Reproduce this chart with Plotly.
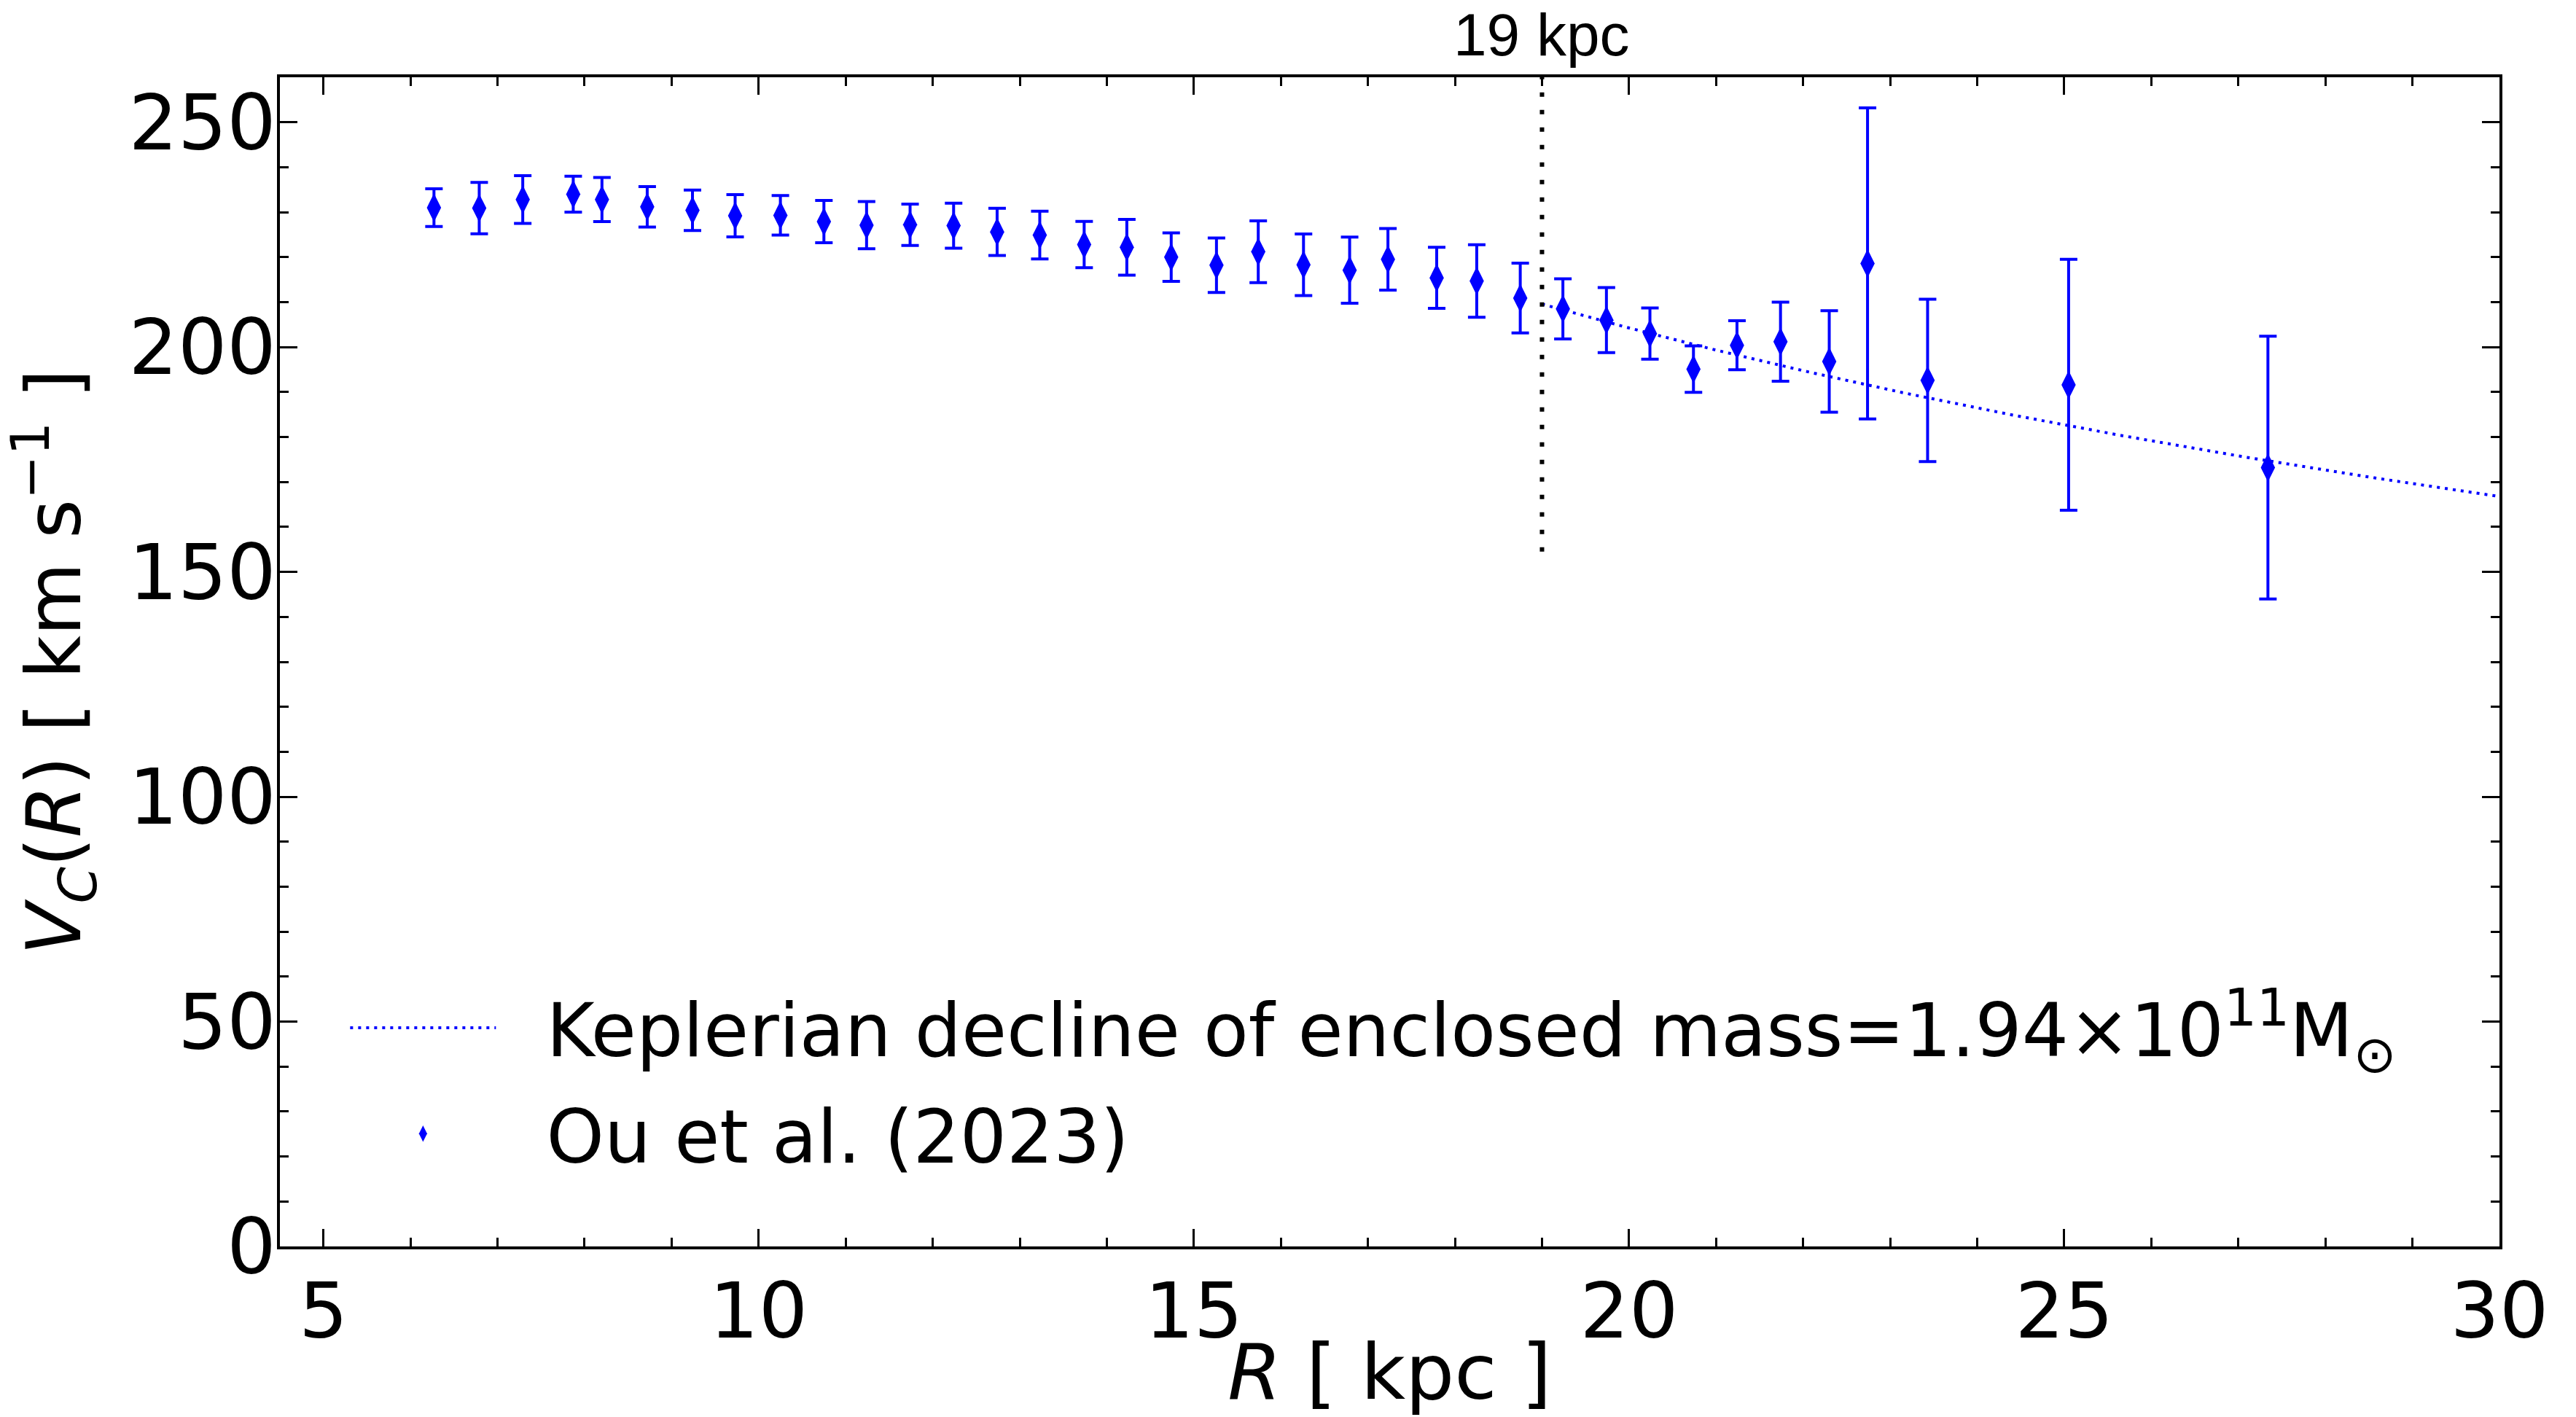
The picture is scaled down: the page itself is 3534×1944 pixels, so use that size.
import numpy as np
import plotly.graph_objects as go

# Circular velocity measurements, Ou et al. (2023)
R_kpc = [6.27, 6.79, 7.29, 7.87, 8.20, 8.72, 9.24, 9.73, 10.25, 10.75, 11.24, 11.74,
         12.24, 12.74, 13.23, 13.74, 14.23, 14.74, 15.26, 15.74, 16.26, 16.79, 17.23,
         17.79, 18.25, 18.75, 19.24, 19.74, 20.24, 20.74, 21.24, 21.74, 22.30, 22.74,
         23.43, 25.05, 27.34]
Vc_kms = [231.0, 230.9, 232.8, 234.0, 232.8, 231.2, 230.4, 229.2, 229.3, 227.9, 227.1,
          227.2, 227.0, 225.6, 224.9, 222.8, 222.2, 220.0, 218.2, 221.2, 218.3, 217.1,
          219.5, 215.4, 214.7, 210.9, 208.5, 206.0, 203.0, 195.1, 200.4, 201.2, 196.8,
          218.6, 192.6, 191.6, 173.2]
Vc_err = [4.2, 5.7, 5.3, 4.0, 4.9, 4.5, 4.5, 4.7, 4.4, 4.7, 5.25, 4.6, 5.0, 5.25, 5.3,
          5.15, 6.2, 5.4, 6.05, 6.85, 6.85, 7.35, 6.85, 6.8, 8.05, 7.75, 6.7, 7.25, 5.7,
          5.15, 5.45, 8.8, 11.3, 34.6, 18.05, 27.9, 29.2]

# Keplerian fall-off beyond the break radius for the enclosed mass
M_enc = 1.94e11             # Msun
G = 4.30091e-6              # kpc (km/s)^2 / Msun
R_break = 19.0              # kpc
R_max = 30.0
R_kep = np.linspace(R_break, R_max, 200)
V_kep = np.sqrt(G * M_enc / R_kep)

# Marker for the break radius
vline_V = [154.5, 260.0]

X_RANGE = [4.5, 30]
Y_RANGE = [0, 260]

BLUE = "#0000ff"
FONT = "DejaVu Sans"
GAP = "\u00a0\u00a0"  # small gap between legend symbol and label

fig = go.Figure()

fig.add_trace(go.Scatter(
    x=R_kep, y=V_kep, mode="lines",
    line=dict(color=BLUE, width=4, dash="4px,7px"),
    name=GAP + "Keplerian decline of enclosed mass=1.94×10<sup>11</sup>M<sub>⊙</sub>",
    legendgroup="kep",
))

fig.add_trace(go.Scatter(
    x=[R_break, R_break], y=vline_V, mode="lines",
    line=dict(color="black", width=6, dash="6px,18px"),
    showlegend=False, hoverinfo="skip",
))

fig.add_trace(go.Scatter(
    x=R_kpc, y=Vc_kms, mode="markers",
    marker=dict(symbol="diamond-tall", size=28, color=BLUE, line=dict(width=0)),
    error_y=dict(type="data", array=Vc_err, visible=True, color=BLUE,
                 thickness=4, width=12),
    name=GAP + "Ou et al. (2023)",
    legendgroup="ou",
))

fig.add_annotation(
    x=R_break, y=1, xref="x", yref="paper", yanchor="bottom", yshift=12,
    text="19 kpc", showarrow=False, borderpad=0,
    font=dict(family="Liberation Sans", size=82, color="black"),
)

axis_common = dict(
    ticks="inside", ticklen=24, tickwidth=3.3, tickcolor="black",
    showline=True, linewidth=4, linecolor="black", mirror="allticks",
    showgrid=False, zeroline=False,
    tickfont=dict(family=FONT, size=106, color="black"),
)

fig.update_xaxes(
    range=X_RANGE, tick0=5, dtick=5, ticklabelstandoff=-6,
    minor=dict(dtick=1, ticklen=12, tickwidth=3, tickcolor="black", ticks="inside", showgrid=False),
    title=dict(text="<i>R</i> [ kpc ]", font=dict(family=FONT, size=106), standoff=36),
    **axis_common,
)
fig.update_yaxes(
    range=Y_RANGE, tick0=0, dtick=50, ticklabelstandoff=-20,
    minor=dict(dtick=10, ticklen=12, tickwidth=3, tickcolor="black", ticks="inside", showgrid=False),
    title=dict(text="<i>V<sub>C</sub></i>(<i>R</i>) [ km s<sup>−1</sup> ]",
               font=dict(family=FONT, size=103), standoff=60),
    **axis_common,
)

fig.update_layout(
    width=3534, height=1944,
    margin=dict(l=384, r=105, t=106, b=234, autoexpand=False),
    plot_bgcolor="white", paper_bgcolor="white",
    font=dict(family=FONT, size=106, color="black"),
    showlegend=True,
    legend=dict(
        x=0.03, y=0.232, xanchor="left", yanchor="top",
        bgcolor="rgba(0,0,0,0)", borderwidth=0,
        font=dict(family=FONT, size=101, color="black"),
        itemwidth=200, tracegroupgap=11,
    ),
)

fig.write_html("out.html")
